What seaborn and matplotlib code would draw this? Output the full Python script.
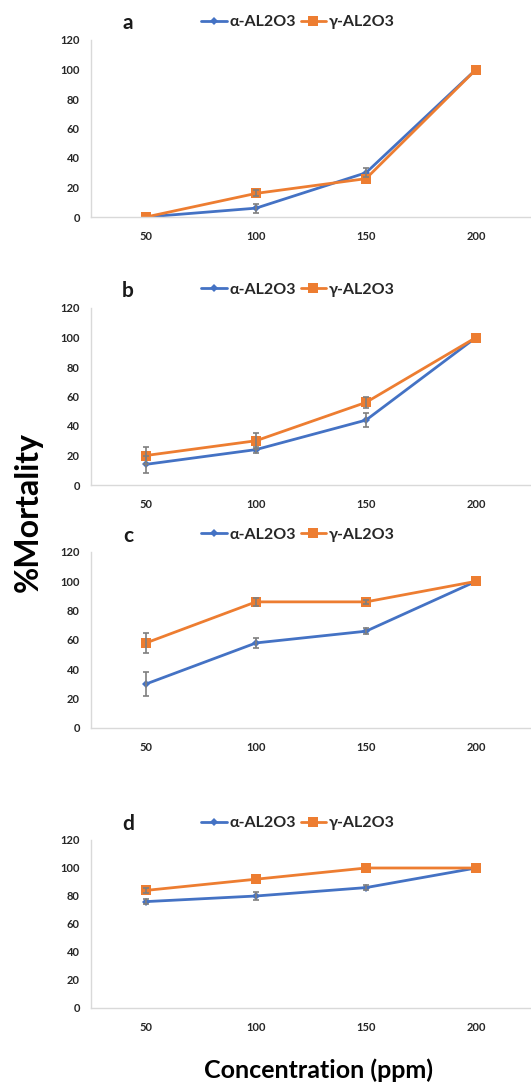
import numpy as np
import pandas as pd
import matplotlib
matplotlib.use("Agg")
import matplotlib.pyplot as plt
import seaborn as sns

# Concentrations (ppm) shared by every panel
concentrations = ["50", "100", "150", "200"]
materials = ["α-AL2O3", "γ-AL2O3"]
panel_names = ["a", "b", "c", "d"]

# Mean % mortality and its error for each panel and material
a_alpha = [0, 6, 30, 100]
a_alpha_err = [0, 3, 3, 0]
a_gamma = [0, 16, 26, 100]
a_gamma_err = [0, 2, 0, 0]

b_alpha = [14, 24, 44, 100]
b_alpha_err = [6, 2, 5, 0]
b_gamma = [20, 30, 56, 100]
b_gamma_err = [5.5, 5.5, 3.5, 0]

c_alpha = [30, 58, 66, 100]
c_alpha_err = [8, 3.5, 2, 0]
c_gamma = [58, 86, 86, 100]
c_gamma_err = [7, 2.5, 1.5, 0]

d_alpha = [76, 80, 86, 100]
d_alpha_err = [2, 3, 2, 0]
d_gamma = [84, 92, 100, 100]
d_gamma_err = [1.5, 0, 0, 0]

panels = [
    (a_alpha, a_alpha_err, a_gamma, a_gamma_err),
    (b_alpha, b_alpha_err, b_gamma, b_gamma_err),
    (c_alpha, c_alpha_err, c_gamma, c_gamma_err),
    (d_alpha, d_alpha_err, d_gamma, d_gamma_err),
]

sns.set_theme(style="white")
plt.rcParams["font.family"] = ["Lato", "DejaVu Sans"]

BLUE = "#4472C4"
ORANGE = "#ED7D31"
ERR = "#7F7F7F"
SPINE = "#D9D9D9"

W, H = 531, 1088
fig = plt.figure(figsize=(W / 100, H / 100), dpi=100)

# axes boxes in pixels: (top of 120 gridline, bottom at 0), legend row y
boxes = [(40, 217, 22), (308, 485, 290), (552, 728, 535), (840, 1008, 823)]
left_px, right_px = 91, 531

for name, (al, al_e, ga, ga_e), (top, bot, leg_y) in zip(panel_names, panels, boxes):
    ax = fig.add_axes([left_px / W, 1 - bot / H, (right_px - left_px) / W, (bot - top) / H])
    df = pd.DataFrame({
        "conc": concentrations * 2,
        "mortality": al + ga,
        "material": [materials[0]] * 4 + [materials[1]] * 4,
    })
    sns.lineplot(data=df, x="conc", y="mortality", hue="material", style="material",
                 markers={materials[0]: "D", materials[1]: "s"}, dashes=False,
                 palette={materials[0]: BLUE, materials[1]: ORANGE},
                 linewidth=2.0, markeredgewidth=0, sort=False, ax=ax)
    for ln in ax.lines:
        if ln.get_marker() == "s":
            ln.set_markersize(7.5)
        else:
            ln.set_markersize(4)
        ln.set_markeredgewidth(0)

    # error bars for points that carry an uncertainty
    for vals, errs in ((al, al_e), (ga, ga_e)):
        xs = [c for c, e in zip(concentrations, errs) if e > 0]
        ys = [v for v, e in zip(vals, errs) if e > 0]
        es = [e for e in errs if e > 0]
        if xs:
            ax.errorbar(xs, ys, yerr=es, fmt="none", ecolor=ERR, elinewidth=1.2,
                        capsize=2.5, capthick=1.2, zorder=5)

    ax.set_xlim(-0.5, 3.5)
    ax.set_ylim(0, 120)
    ax.set_yticks(np.arange(0, 121, 20))
    ax.set_xlabel("")
    ax.set_ylabel("")
    ax.tick_params(axis="both", length=0, labelsize=8, colors="#262626")
    ax.tick_params(axis="x", pad=10)
    ax.tick_params(axis="y", pad=8)
    for lab in ax.get_xticklabels() + ax.get_yticklabels():
        lab.set_fontweight("bold")
    for side in ("top", "right"):
        ax.spines[side].set_visible(False)
    for side in ("left", "bottom"):
        ax.spines[side].set_color(SPINE)
        ax.spines[side].set_linewidth(1.0)
    ax.grid(False)

    handles, labels = ax.get_legend_handles_labels()
    ax.legend(handles, labels, loc="center", bbox_to_anchor=(298 / W, 1 - leg_y / H),
              bbox_transform=fig.transFigure, ncol=2, frameon=False,
              prop={"weight": "bold", "size": 11.5}, handlelength=1.6,
              handletextpad=0.15, columnspacing=0.3, borderaxespad=0)

    fig.text(128 / W, 1 - (leg_y + 1) / H, name, fontsize=15, fontweight="bold",
             ha="center", va="center", color="#1a1a1a")

fig.text(28 / W, 1 - 512 / H, "%Mortality", rotation=90, fontsize=23,
         fontweight="bold", ha="center", va="center", color="black")
fig.text(319 / W, 1 - 1070 / H, "Concentration (ppm)", fontsize=18,
         fontweight="bold", ha="center", va="center", color="black")

fig.savefig("out.png", dpi=100, facecolor="white")
